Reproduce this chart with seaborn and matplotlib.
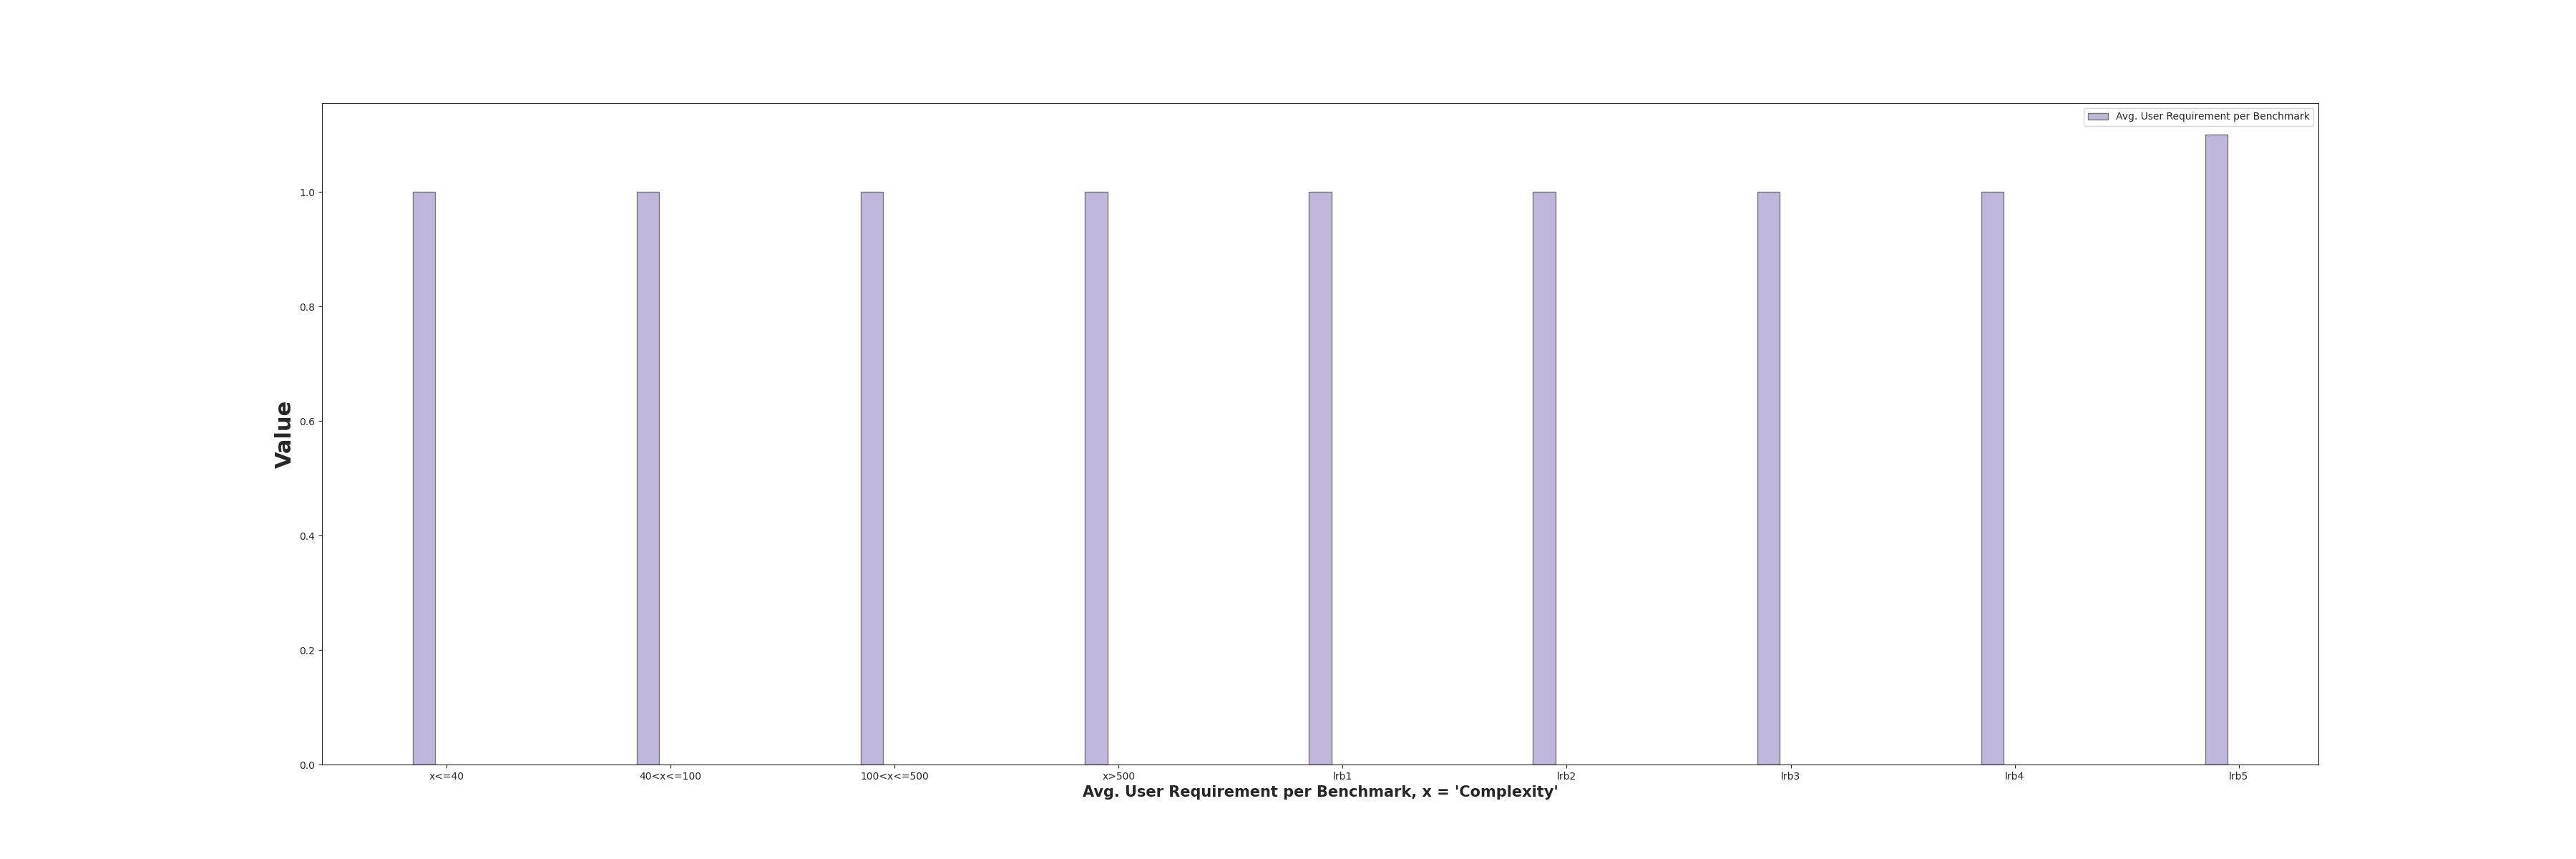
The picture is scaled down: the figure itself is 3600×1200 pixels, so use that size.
import numpy as np
import matplotlib
matplotlib.use('Agg')
import matplotlib.pyplot as plt
import seaborn as sns

categories = ['x<=40', '40<x<=100', '100<x<=500', 'x>500', 'lrb1', 'lrb2', 'lrb3', 'lrb4', 'lrb5']
avg_user_req = [1.0, 1.0, 1.0, 1.0, 1.0, 1.0, 1.0, 1.0, 1.1]

sns.set_style('ticks')
plt.rcParams['font.family'] = ['DejaVu Sans']

fig, ax = plt.subplots(figsize=(36, 12))
x = np.arange(len(categories))
bar_w = 0.1
ax.bar(x - bar_w, avg_user_req, width=bar_w, color='#bfb8dc', edgecolor='#777777',
       linewidth=1, label='Avg. User Requirement per Benchmark')

ax.set_xticks(x)
ax.set_xticklabels(categories)
ax.set_ylabel('Value', fontsize=22, fontweight='bold')
ax.set_xlabel("Avg. User Requirement per Benchmark, x = 'Complexity'", fontsize=15, fontweight='bold')
ax.legend(loc='upper right')
for s in ax.spines.values():
    s.set_visible(True)

plt.savefig('out.png', dpi=100)
